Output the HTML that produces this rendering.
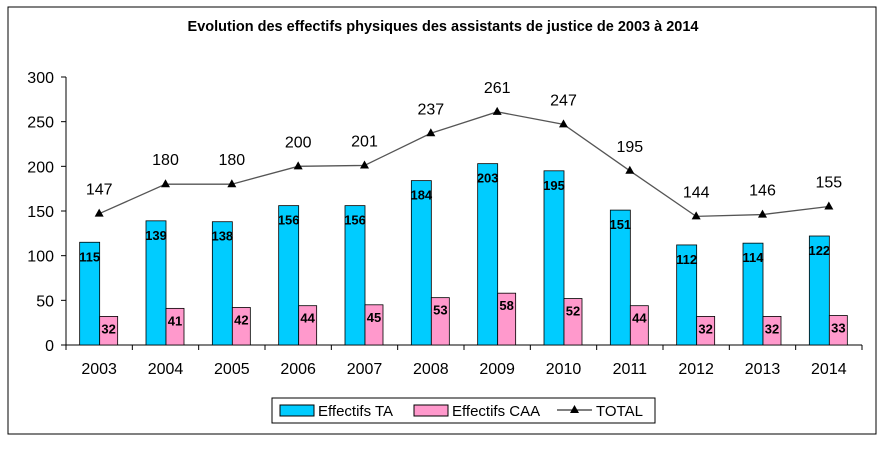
<!DOCTYPE html>
<html><head><meta charset="utf-8"><style>
body{margin:0;background:#fff;font-family:"Liberation Sans",Arial,sans-serif}
</style></head><body>
<svg id="c" width="884" height="444" xmlns="http://www.w3.org/2000/svg">
<rect x="8" y="7" width="868" height="427" fill="#fff" stroke="#000" stroke-width="1"/>
<text x="443" y="31" text-anchor="middle" font-size="14.5" font-weight="bold">Evolution des effectifs physiques des assistants de justice de 2003 à 2014</text>
<g id="plot"></g>
<g>
<rect x="272" y="398" width="383" height="25" fill="#fff" stroke="#000"/>
<rect x="280" y="405" width="34" height="11" fill="#00ccff" stroke="#000"/>
<text x="318" y="416" font-size="15">Effectifs TA</text>
<rect x="414" y="405" width="34" height="11" fill="#ff99cc" stroke="#000"/>
<text x="452" y="416" font-size="15">Effectifs CAA</text>
<line x1="557" y1="410" x2="592" y2="410" stroke="#000"/>
<path d="M574.5,405 L579,413 L570,413Z" fill="#000"/>
<text x="596" y="416" font-size="15">TOTAL</text>
</g>
</svg>
<script>
const years=["2003","2004","2005","2006","2007","2008","2009","2010","2011","2012","2013","2014"];
const ta=[115,139,138,156,156,184,203,195,151,112,114,122];
const caa=[32,41,42,44,45,53,58,52,44,32,32,33];
const total=[147,180,180,200,201,237,261,247,195,144,146,155];
const yTicks=[0,50,100,150,200,250,300];
const NS="http://www.w3.org/2000/svg";
const g=document.getElementById('plot');
const X0=66,X1=862,Y0=345,Y1=77,YMAX=300;
const bw=(X1-X0)/years.length;
const y=v=>Y0-(v/YMAX)*(Y0-Y1);
const cx=i=>X0+bw*(i+0.5);
function mk(t,a){const e=document.createElementNS(NS,t);for(const k in a)e.setAttribute(k,a[k]);g.appendChild(e);return e;}
let ax=mk('line',{x1:X0,y1:Y1,x2:X0,y2:Y0,stroke:'#000'});


yTicks.forEach(v=>{
 mk('line',{x1:X0-5,y1:y(v),x2:X0,y2:y(v),stroke:'#000'});
 const t=mk('text',{x:X0-12,y:y(v)+6,'text-anchor':'end','font-size':16});t.textContent=v;
 
 
});
let xa=mk('line',{x1:X0,y1:Y0,x2:X1,y2:Y0,stroke:'#000'});


years.forEach((yr,i)=>{
 const L=X0+bw*i;
 mk('line',{x1:L,y1:Y0,x2:L,y2:Y0+5,stroke:'#000'});
 if(i==years.length-1)mk('line',{x1:L+bw,y1:Y0,x2:L+bw,y2:Y0+5,stroke:'#000'});
 const c=cx(i);
 const b1=mk('rect',{x:c-19.5,y:y(ta[i]),width:20,height:Y0-y(ta[i]),fill:'#00ccff',stroke:'#000','stroke-width':0.8});
 
 
 const b2=mk('rect',{x:c+0.5,y:y(caa[i]),width:18,height:Y0-y(caa[i]),fill:'#ff99cc',stroke:'#000','stroke-width':0.8});
 
 
 const l1=mk('text',{x:c-9.5,y:y(ta[i])+19,'text-anchor':'middle','font-size':13,'font-weight':'bold'});l1.textContent=ta[i];
 
 
 const l2=mk('text',{x:c+9.5,y:y(caa[i])+17,'text-anchor':'middle','font-size':13,'font-weight':'bold'});l2.textContent=caa[i];
 
 
 const xl=mk('text',{x:c,y:Y0+29,'text-anchor':'middle','font-size':16});xl.textContent=yr;
 
 
});
const pts=total.map((v,i)=>cx(i)+','+y(v)).join(' ');
const pl=mk('polyline',{points:pts,fill:'none',stroke:'#555','stroke-width':1.3});


total.forEach((v,i)=>{
 const c=cx(i),yy=y(v);
 const m=mk('path',{d:`M${c},${yy-5} L${c+4.5},${yy+3} L${c-4.5},${yy+3}Z`,fill:'#000'});
 
 
 const t=mk('text',{x:c,y:yy-19,'text-anchor':'middle','font-size':16});t.textContent=v;
 
 
});
</script>
</body></html>
